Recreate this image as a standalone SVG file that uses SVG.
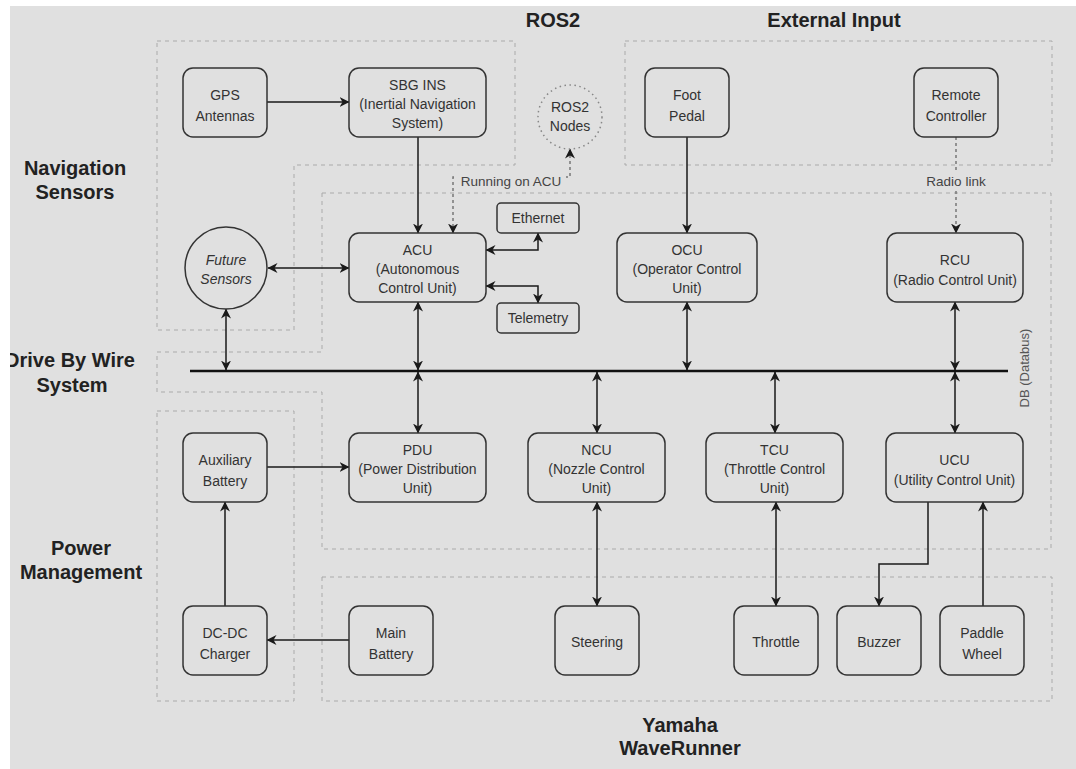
<svg xmlns="http://www.w3.org/2000/svg" width="1076" height="769" viewBox="0 0 1076 769">
<style>
.node rect,.node circle{fill:#e0e0e0;stroke:#333;stroke-width:1.5}
.node text,.lbl{font-family:"Liberation Sans",Arial,sans-serif;font-size:14px;fill:#333;text-anchor:middle}
.title{font-family:"Liberation Sans",Arial,sans-serif;font-size:20px;font-weight:bold;fill:#222;text-anchor:middle}
.zone{fill:none;stroke:#aaa;stroke-width:1;stroke-dasharray:4 4}
.c{fill:none;stroke:#1a1a1a;stroke-width:1.5}
.d{stroke-dasharray:3 3;stroke:#777}
.small{font-size:13.5px;fill:#444}
</style>
<defs>
<marker id="ah" viewBox="0 0 10 10" refX="9.5" refY="5" markerWidth="10" markerHeight="10" markerUnits="userSpaceOnUse" orient="auto-start-reverse">
<path d="M0,0 L10,5 L0,10 L3,5 z" fill="#1a1a1a"/>
</marker>
</defs>
<rect x="0" y="0" width="1076" height="769" fill="#e0e0e0"/>

<g id="zones">
<path class="zone" d="M157,41 H515 V165 H294 V330 H157 Z"/>
<rect class="zone" x="625" y="41" width="427" height="124"/>
<path class="zone" d="M322,193 H1051 V549 H322 V392 H157 V352 H322 Z"/>
<rect class="zone" x="157" y="411" width="137" height="290"/>
<rect class="zone" x="322" y="577" width="730" height="124"/>
</g>

<g id="titles">
<text class="title" x="553" y="27">ROS2</text>
<text class="title" x="834" y="27">External Input</text>
<text class="title" x="75" y="175">Navigation</text>
<text class="title" x="75" y="199">Sensors</text>
<text class="title" x="70" y="367">Drive By Wire</text>
<text class="title" x="72" y="392">System</text>
<text class="title" x="81" y="555">Power</text>
<text class="title" x="81" y="579">Management</text>
<text class="title" x="680" y="732">Yamaha</text>
<text class="title" x="680" y="755">WaveRunner</text>
</g>

<g id="connectors">
<line class="c" x1="267" y1="102" x2="349" y2="102" marker-end="url(#ah)"/>
<line class="c" x1="418" y1="137" x2="418" y2="233" marker-end="url(#ah)"/>
<path class="c d" d="M453,233 V177 H570 V149" marker-start="url(#ah)" marker-end="url(#ah)"/>
<line class="c" x1="268" y1="268" x2="349" y2="268" marker-start="url(#ah)" marker-end="url(#ah)"/>
<path class="c" d="M486,250 H538 V233" marker-start="url(#ah)" marker-end="url(#ah)"/>
<path class="c" d="M486,286 H538 V303" marker-start="url(#ah)" marker-end="url(#ah)"/>
<line class="c" x1="226" y1="309" x2="226" y2="370" marker-start="url(#ah)" marker-end="url(#ah)"/>
<line class="c" x1="418" y1="302" x2="418" y2="370" marker-start="url(#ah)" marker-end="url(#ah)"/>
<line class="c" x1="687" y1="137" x2="687" y2="233" marker-end="url(#ah)"/>
<line class="c d" x1="956" y1="137" x2="956" y2="233" marker-end="url(#ah)"/>
<line class="c" x1="687" y1="302" x2="687" y2="370" marker-start="url(#ah)" marker-end="url(#ah)"/>
<line class="c" x1="955" y1="302" x2="955" y2="370" marker-start="url(#ah)" marker-end="url(#ah)"/>
<line class="c" x1="418" y1="372" x2="418" y2="433" marker-start="url(#ah)" marker-end="url(#ah)"/>
<line class="c" x1="597" y1="372" x2="597" y2="433" marker-start="url(#ah)" marker-end="url(#ah)"/>
<line class="c" x1="775" y1="372" x2="775" y2="433" marker-start="url(#ah)" marker-end="url(#ah)"/>
<line class="c" x1="955" y1="372" x2="955" y2="433" marker-start="url(#ah)" marker-end="url(#ah)"/>
<line class="c" x1="267" y1="467" x2="349" y2="467" marker-end="url(#ah)"/>
<line class="c" x1="225" y1="606" x2="225" y2="502" marker-end="url(#ah)"/>
<line class="c" x1="349" y1="640" x2="267" y2="640" marker-end="url(#ah)"/>
<line class="c" x1="597" y1="502" x2="597" y2="606" marker-start="url(#ah)" marker-end="url(#ah)"/>
<line class="c" x1="776" y1="502" x2="776" y2="606" marker-start="url(#ah)" marker-end="url(#ah)"/>
<path class="c" d="M928,502 V564 H879 V606" marker-end="url(#ah)"/>
<line class="c" x1="983" y1="606" x2="983" y2="502" marker-end="url(#ah)"/>
<line x1="190" y1="371" x2="1008" y2="371" stroke="#111" stroke-width="2.5"/>
<rect x="456" y="170" width="110" height="16" fill="#e0e0e0"/>
<text class="lbl small" x="511" y="186">Running on ACU</text>
<rect x="924" y="172" width="64" height="16" fill="#e0e0e0"/>
<text class="lbl small" x="956" y="186">Radio link</text>
<text class="lbl" style="font-size:13px;fill:#555" transform="translate(1029,368) rotate(-90)">DB (Databus)</text>
</g>

<g id="gps" class="node"><rect x="183" y="68" width="84" height="69" rx="10"/><text x="225" y="100">GPS</text><text x="225" y="121">Antennas</text></g>
<g id="sbg" class="node"><rect x="349" y="68" width="137" height="69" rx="10"/><text x="417.5" y="90">SBG INS</text><text x="417.5" y="109">(Inertial Navigation</text><text x="417.5" y="128">System)</text></g>
<g id="ros2nodes" class="node"><circle cx="570" cy="117" r="32" style="stroke:#888;stroke-dasharray:1.5 3.5"/><text x="570" y="112">ROS2</text><text x="570" y="131">Nodes</text></g>
<g id="footpedal" class="node"><rect x="645" y="68" width="84" height="69" rx="10"/><text x="687" y="100">Foot</text><text x="687" y="121">Pedal</text></g>
<g id="remote" class="node"><rect x="914" y="68" width="84" height="69" rx="10"/><text x="956" y="100">Remote</text><text x="956" y="121">Controller</text></g>
<g id="future" class="node"><circle cx="226" cy="268" r="41"/><text x="226" y="265" style="font-style:italic">Future</text><text x="226" y="284" style="font-style:italic">Sensors</text></g>
<g id="acu" class="node"><rect x="349" y="233" width="137" height="69" rx="10"/><text x="417.5" y="255">ACU</text><text x="417.5" y="274">(Autonomous</text><text x="417.5" y="293">Control Unit)</text></g>
<g id="ethernet" class="node"><rect x="497" y="203" width="82" height="30" rx="4"/><text x="538" y="223">Ethernet</text></g>
<g id="telemetry" class="node"><rect x="497" y="303" width="82" height="30" rx="4"/><text x="538" y="323">Telemetry</text></g>
<g id="ocu" class="node"><rect x="617" y="233" width="140" height="69" rx="10"/><text x="687" y="255">OCU</text><text x="687" y="274">(Operator Control</text><text x="687" y="293">Unit)</text></g>
<g id="rcu" class="node"><rect x="887" y="233" width="136" height="69" rx="10"/><text x="955" y="265">RCU</text><text x="955" y="285">(Radio Control Unit)</text></g>
<g id="pdu" class="node"><rect x="349" y="433" width="137" height="69" rx="10"/><text x="417.5" y="455">PDU</text><text x="417.5" y="474">(Power Distribution</text><text x="417.5" y="493">Unit)</text></g>
<g id="ncu" class="node"><rect x="528" y="433" width="137" height="69" rx="10"/><text x="596.5" y="455">NCU</text><text x="596.5" y="474">(Nozzle Control</text><text x="596.5" y="493">Unit)</text></g>
<g id="tcu" class="node"><rect x="706" y="433" width="137" height="69" rx="10"/><text x="774.5" y="455">TCU</text><text x="774.5" y="474">(Throttle Control</text><text x="774.5" y="493">Unit)</text></g>
<g id="ucu" class="node"><rect x="886" y="433" width="137" height="69" rx="10"/><text x="954.5" y="465">UCU</text><text x="954.5" y="485">(Utility Control Unit)</text></g>
<g id="auxbattery" class="node"><rect x="183" y="433" width="84" height="69" rx="10"/><text x="225" y="465">Auxiliary</text><text x="225" y="486">Battery</text></g>
<g id="dcdc" class="node"><rect x="183" y="606" width="84" height="69" rx="10"/><text x="225" y="638">DC-DC</text><text x="225" y="659">Charger</text></g>
<g id="mainbattery" class="node"><rect x="349" y="606" width="84" height="69" rx="10"/><text x="391" y="638">Main</text><text x="391" y="659">Battery</text></g>
<g id="steering" class="node"><rect x="555" y="606" width="84" height="69" rx="10"/><text x="597" y="647">Steering</text></g>
<g id="throttle" class="node"><rect x="734" y="606" width="84" height="69" rx="10"/><text x="776" y="647">Throttle</text></g>
<g id="buzzer" class="node"><rect x="837" y="606" width="84" height="69" rx="10"/><text x="879" y="647">Buzzer</text></g>
<g id="paddlewheel" class="node"><rect x="940" y="606" width="84" height="69" rx="10"/><text x="982" y="638">Paddle</text><text x="982" y="659">Wheel</text></g>

<rect x="0" y="0" width="1076" height="6" fill="#ffffff"/>
<rect x="0" y="0" width="10" height="769" fill="#ffffff"/>
</svg>
